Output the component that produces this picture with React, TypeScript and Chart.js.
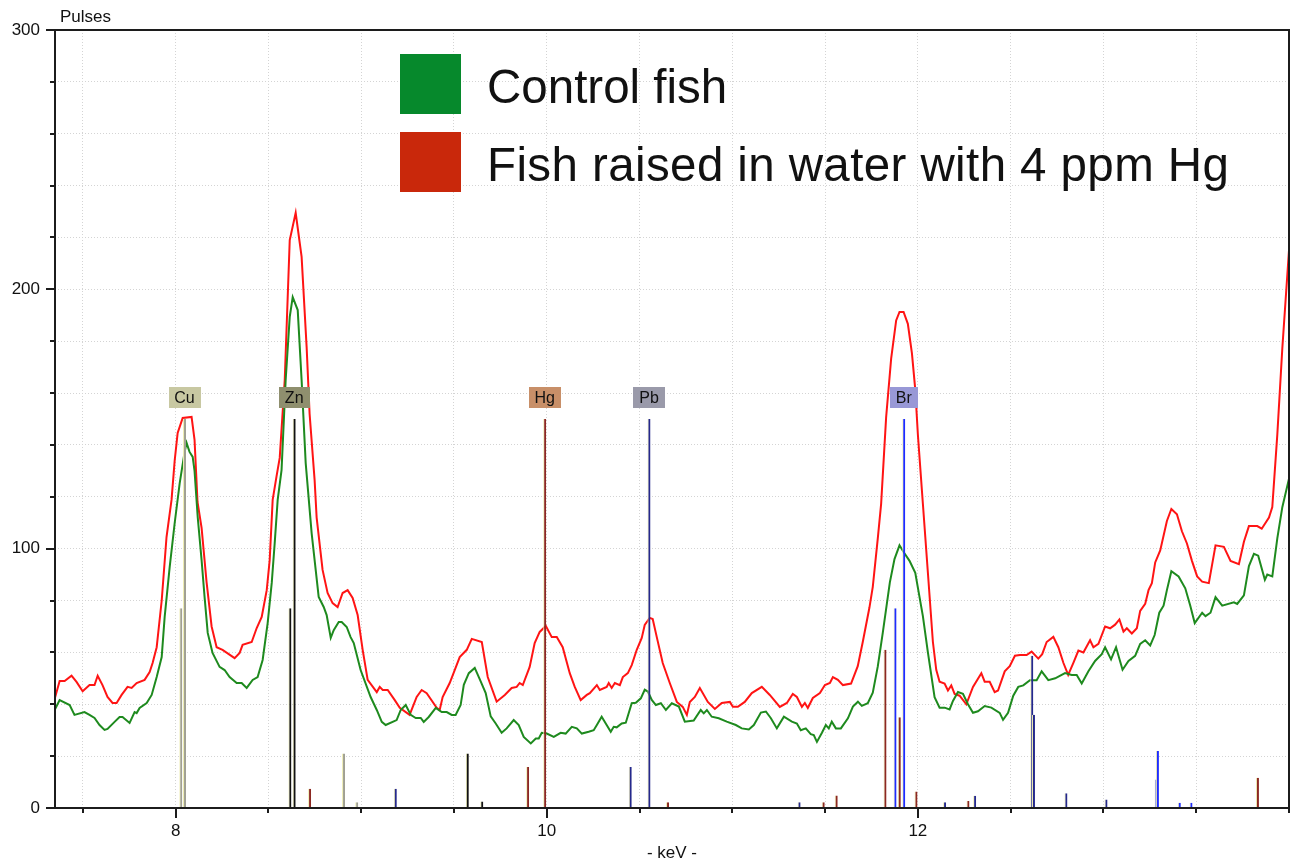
import React, { useEffect, useRef } from 'react';
import { Chart, registerables } from 'chart.js';

Chart.register(...registerables);

// ---------- DATA ----------
const redKeV = [
  7.348, 7.375, 7.402, 7.439, 7.466, 7.499, 7.536, 7.563, 7.58, 7.606, 7.633, 7.66, 7.682, 7.709, 7.741, 7.763, 7.79, 7.833, 7.86, 7.876,
  7.898, 7.925, 7.951, 7.978, 7.995, 8.011, 8.038, 8.086, 8.102, 8.118, 8.14, 8.167, 8.194, 8.221, 8.253, 8.318, 8.345, 8.361, 8.41, 8.437,
  8.464, 8.491, 8.507, 8.523, 8.544, 8.561, 8.588, 8.615, 8.647, 8.679, 8.706, 8.722, 8.749, 8.76, 8.792, 8.819, 8.846, 8.873, 8.9, 8.927,
  8.954, 8.981, 9.008, 9.035, 9.084, 9.1, 9.116, 9.143, 9.181, 9.208, 9.261, 9.299, 9.326, 9.353, 9.407, 9.423, 9.439, 9.477, 9.504, 9.531,
  9.569, 9.596, 9.65, 9.682, 9.73, 9.774, 9.811, 9.838, 9.854, 9.871, 9.908, 9.935, 9.962, 9.995, 10.027, 10.054, 10.086, 10.124, 10.151, 10.183,
  10.216, 10.232, 10.27, 10.286, 10.323, 10.334, 10.35, 10.367, 10.394, 10.41, 10.437, 10.458, 10.485, 10.512, 10.528, 10.555, 10.571, 10.593, 10.625, 10.663,
  10.701, 10.733, 10.755, 10.771, 10.798, 10.825, 10.868, 10.906, 10.943, 10.987, 11.003, 11.03, 11.067, 11.105, 11.159, 11.202, 11.256, 11.294, 11.326, 11.348,
  11.375, 11.391, 11.407, 11.434, 11.472, 11.499, 11.526, 11.542, 11.569, 11.596, 11.64, 11.676, 11.703, 11.739, 11.757, 11.784, 11.802, 11.829, 11.856, 11.883,
  11.901, 11.923, 11.946, 11.968, 11.986, 12.0, 12.027, 12.054, 12.081, 12.099, 12.117, 12.144, 12.162, 12.18, 12.198, 12.225, 12.261, 12.297, 12.342, 12.36,
  12.387, 12.414, 12.432, 12.468, 12.495, 12.523, 12.55, 12.586, 12.613, 12.649, 12.67, 12.694, 12.73, 12.757, 12.784, 12.81, 12.838, 12.865, 12.892, 12.928,
  12.946, 12.973, 13.009, 13.036, 13.063, 13.086, 13.108, 13.126, 13.153, 13.18, 13.198, 13.225, 13.243, 13.261, 13.279, 13.306, 13.342, 13.366, 13.396, 13.423,
  13.45, 13.477, 13.505, 13.532, 13.568, 13.604, 13.649, 13.685, 13.73, 13.757, 13.784, 13.829, 13.853, 13.892, 13.91, 13.937, 13.964, 14.0
];
const redPulses = [
  42, 49, 49, 51, 48.6, 45, 47.4, 47.4, 51, 47.4, 42.8, 40.5, 40.5, 43.6, 46.7, 46.3, 48.2, 49.4, 52.4, 55.9,
  62, 80, 104.5, 118.8, 134, 144.6, 150.4, 150.8, 142, 118, 108, 87, 70, 62, 61, 57.8, 59.8, 62.9, 64, 69.4,
  73.7, 84, 95.6, 118.8, 128, 135, 165, 219, 229.5, 212.5, 177.8, 152, 126.5, 112, 91.8, 82.9, 79, 77.5, 82.9, 84,
  81, 74.4, 61, 49.4, 44.7, 46.7, 45.5, 45.5, 41.6, 38.6, 35.9, 42.8, 45.5, 44.3, 38.6, 37.8, 42.8, 48.2, 53.2, 58.2,
  61, 65.2, 64, 50.5, 41, 43.6, 46.3, 46.7, 48.2, 47.4, 54.4, 63.6, 67.9, 70.2, 65.9, 65.9, 62, 52, 46.7, 41.6,
  43.6, 44.3, 47.4, 45.5, 46.7, 48.2, 46.3, 48.2, 47.4, 50.5, 52, 55.1, 61, 65.6, 70.6, 73.3, 72.9, 65.9, 55.9, 48.2,
  40.9, 39, 35.9, 40.9, 42.8, 46.3, 40.9, 38.2, 40.5, 40.9, 39, 39, 40.9, 44.3, 46.7, 43.6, 39, 40.5, 44, 42.8,
  39, 40.5, 38.6, 42.4, 44.3, 47.4, 48.2, 50.5, 49.4, 47.4, 48, 54.7, 64, 77.3, 85.3, 104, 117.3, 150.7, 173.3, 188,
  191.3, 191.3, 186.7, 175.3, 161.3, 144, 117.3, 90.7, 64, 53.3, 48.7, 48, 45.3, 47.3, 44, 43.3, 40, 46.7, 52, 48.7,
  48.7, 44.7, 45.3, 52.7, 54.7, 58.7, 59, 59, 60.3, 57.6, 59.3, 64, 66, 62, 56, 51.3, 56, 60.7, 60, 64.7,
  62, 63.3, 70, 69.3, 70.7, 72.7, 68, 69.3, 67.3, 69.3, 76, 78.7, 84, 86.7, 94.7, 99.3, 110.7, 115.3, 113.3, 106.7,
  102, 95.3, 89.3, 87.3, 86.7, 101.3, 100.7, 95.3, 94, 102.7, 108.7, 108.7, 107.7, 112, 116, 144, 177.3, 215
];

const greenKeV = [
  7.348, 7.375, 7.429, 7.455, 7.509, 7.536, 7.563, 7.59, 7.617, 7.633, 7.671, 7.698, 7.714, 7.752, 7.779, 7.79, 7.806, 7.844, 7.871, 7.898,
  7.925, 7.941, 7.968, 7.995, 8.022, 8.049, 8.059, 8.075, 8.092, 8.102, 8.119, 8.14, 8.156, 8.173, 8.199, 8.237, 8.264, 8.291, 8.329, 8.356,
  8.383, 8.415, 8.442, 8.469, 8.496, 8.518, 8.534, 8.55, 8.571, 8.593, 8.615, 8.631, 8.658, 8.679, 8.701, 8.733, 8.771, 8.798, 8.814, 8.836,
  8.852, 8.879, 8.895, 8.922, 8.943, 8.96, 8.997, 9.051, 9.084, 9.111, 9.132, 9.191, 9.213, 9.24, 9.267, 9.294, 9.321, 9.337, 9.364, 9.402,
  9.434, 9.461, 9.488, 9.509, 9.536, 9.553, 9.58, 9.612, 9.644, 9.671, 9.698, 9.725, 9.757, 9.784, 9.822, 9.849, 9.876, 9.914, 9.941, 9.957,
  9.973, 10.0, 10.038, 10.075, 10.102, 10.135, 10.162, 10.189, 10.226, 10.253, 10.27, 10.296, 10.318, 10.345, 10.361, 10.377, 10.404, 10.426, 10.458, 10.48,
  10.507, 10.528, 10.545, 10.566, 10.588, 10.615, 10.642, 10.674, 10.712, 10.744, 10.792, 10.83, 10.846, 10.863, 10.889, 10.927, 10.97, 11.019, 11.051, 11.089,
  11.116, 11.154, 11.181, 11.208, 11.24, 11.278, 11.321, 11.348, 11.369, 11.396, 11.423, 11.439, 11.456, 11.483, 11.504, 11.52, 11.536, 11.558, 11.585, 11.623,
  11.65, 11.677, 11.698, 11.73, 11.757, 11.784, 11.811, 11.849, 11.874, 11.901, 11.923, 11.955, 11.986, 12.009, 12.027, 12.054, 12.09, 12.117, 12.144, 12.171,
  12.189, 12.216, 12.243, 12.27, 12.297, 12.324, 12.36, 12.396, 12.441, 12.459, 12.486, 12.514, 12.541, 12.568, 12.604, 12.64, 12.667, 12.703, 12.74, 12.793,
  12.829, 12.856, 12.883, 12.919, 12.955, 12.991, 13.009, 13.041, 13.068, 13.103, 13.135, 13.171, 13.198, 13.225, 13.252, 13.276, 13.301, 13.324, 13.342, 13.366,
  13.405, 13.441, 13.468, 13.492, 13.532, 13.55, 13.577, 13.604, 13.64, 13.703, 13.721, 13.757, 13.784, 13.811, 13.834, 13.87, 13.883, 13.91, 13.937, 13.964, 14.0
];
const greenPulses = [
  37.8, 41.6, 39.7, 35.9, 37, 35.9, 34.7, 32, 30.1, 30.5, 33.2, 35.1, 35.1, 32.8, 37, 36.6, 38.6, 40.5, 43.6, 50.5,
  58.2, 73.7, 92.9, 109.9, 125.3, 137.5, 140.8, 137.3, 135.4, 130, 112.2, 95.6, 81.4, 67.5, 59.8, 54.4, 53.2, 50.5, 48.2, 48.2,
  46.3, 49.4, 50.5, 57.1, 71.3, 86.8, 102.2, 118.8, 130.4, 165, 189.4, 197, 192, 165, 133, 106, 81.4, 77.5, 74.4, 65.6,
  68.6, 71.7, 71.7, 69.8, 65.9, 63.6, 53.2, 42.8, 37.8, 33.2, 32, 33.9, 37.8, 39.7, 35.9, 34.7, 34.7, 33.2, 35.1, 38.6,
  37, 37, 35.9, 35.9, 39.7, 47.5, 52, 54, 48.8, 44.3, 35.3, 32.6, 29, 30.7, 33.9, 32, 27.4, 24.9, 26.8, 26.8,
  29, 28.7, 27.4, 29, 28.7, 31.3, 30.7, 28.7, 29.4, 30, 32, 35.2, 32.6, 29.4, 31.3, 31.1, 32.6, 32.9, 40.4, 40.6,
  42.3, 45.6, 44.9, 41.7, 39.7, 40.4, 37.8, 40.4, 39.1, 33.3, 33.7, 37.8, 36.5, 37.8, 35.2, 34.6, 33.3, 32, 30.7, 30.3,
  32, 36.8, 37.2, 34.6, 30.7, 35.2, 33.3, 32.6, 30, 30.7, 28.5, 28.1, 25.5, 29, 32, 30.7, 33.3, 30.7, 30.7, 34.6,
  39.1, 41, 39.4, 40.4, 44.5, 54.6, 67.6, 87, 96, 101.3, 98.7, 95.3, 90.7, 81.3, 74, 60, 42.7, 38.7, 38.7, 38,
  41.3, 44.7, 44, 40, 36.7, 37.3, 39.3, 38.7, 36.7, 34, 36.7, 43.3, 46.7, 47.3, 49.3, 49.3, 52.7, 49.3, 50, 52,
  51.3, 51.3, 48, 52.7, 56.7, 59.3, 62, 57.3, 62, 53.3, 56.7, 58.7, 63.3, 64.7, 62.7, 66.7, 75.3, 78, 84, 91.3,
  89.3, 84.7, 78, 71.3, 75.3, 74, 75.3, 81.3, 78, 79.3, 78.7, 82, 93.3, 98, 97.3, 88, 90, 89.3, 104, 116, 127
];

// element emission lines (keV, relative height, element)
const lineKeV = [
  8.028, 8.048, 8.616, 8.639, 8.722, 8.905, 8.976, 9.184, 9.572, 9.65,
  9.897, 9.989, 10.45, 10.551, 10.651, 11.36, 11.49, 11.56, 11.823, 11.877,
  11.9, 11.924, 11.99, 12.144, 12.27, 12.306, 12.614, 12.623, 12.798, 13.014,
  13.284, 13.291, 13.409, 13.472, 13.83
];
const lineHeight = [
  77, 150, 77, 150, 7.4, 21, 2.2, 7.4, 21, 2.5,
  15.8, 150, 15.8, 150, 2.2, 2.2, 2.2, 4.8, 61, 77,
  35, 150, 6.4, 2.2, 2.7, 4.7, 58.7, 36, 5.7, 3.3,
  11, 22, 2, 2, 11.7
];
const lineElement = [
  'Cu', 'Cu', 'Zn', 'Zn', 'Hg', 'Cu', 'Cu', 'Pb', 'Zn', 'Zn',
  'Hg', 'Hg', 'Pb', 'Pb', 'Hg', 'Pb', 'Hg', 'Hg', 'Hg', 'Br',
  'Hg', 'Br', 'Hg', 'Pb', 'Hg', 'Pb', 'Pb', 'Pb', 'Pb', 'Pb',
  'Br', 'Br', 'Br', 'Br', 'Hg'
];

const labelElements = ['Cu', 'Zn', 'Hg', 'Pb', 'Br'];
const labelKeV = [8.048, 8.639, 9.989, 10.551, 11.924];

const yTickLabels = [0, 100, 200, 300];
const xTickLabels = [8, 10, 12];
const seriesNames = ['Control fish', 'Fish raised in water with 4 ppm Hg'];
const yAxisTitle = 'Pulses';
const xAxisTitle = '- keV -';

// ---------- STYLES ----------
const FONT = '"Liberation Sans", Arial, Helvetica, sans-serif';
const elementColor: Record<string, string> = {
  Cu: '#a0a092',
  Zn: '#121212',
  Hg: '#8c2822',
  Pb: '#25298c',
  Br: '#1e2cff',
};
const elementBg: Record<string, string> = {
  Cu: '#c8c8a2',
  Zn: '#8f8f6e',
  Hg: '#c88f68',
  Pb: '#9a9aaa',
  Br: '#9898d6',
};
const LABEL_LEVEL = 158.3;
const GREEN_LINE = '#1e8a1e';
const RED_LINE = '#ff1414';
const GREEN_SWATCH = '#06892c';
const RED_SWATCH = '#c9280b';

const overlayPlugin = {
  id: 'overlay',
  afterDatasetsDraw(chart: any) {
    const { ctx, scales } = chart;
    const x = scales.x;
    const y = scales.y;
    ctx.save();
    ctx.font = `16px ${FONT}`;
    ctx.textAlign = 'center';
    ctx.textBaseline = 'middle';
    labelElements.forEach((el, i) => {
      const cx = x.getPixelForValue(labelKeV[i]);
      const cy = y.getPixelForValue(LABEL_LEVEL);
      const w = Math.round(ctx.measureText(el).width + 12);
      const h = 21;
      ctx.fillStyle = elementBg[el];
      ctx.fillRect(Math.round(cx - w / 2), Math.round(cy - h / 2), w, h);
      ctx.fillStyle = '#111';
      ctx.fillText(el, cx, cy + 1);
    });
    ctx.restore();
  },
  afterDraw(chart: any) {
    const { ctx, chartArea, scales } = chart;
    const x = scales.x;
    const y = scales.y;
    ctx.save();
    // frame
    ctx.strokeStyle = '#1c1c1c';
    ctx.lineWidth = 2;
    ctx.strokeRect(chartArea.left, chartArea.top, chartArea.right - chartArea.left, chartArea.bottom - chartArea.top);
    // tick marks
    ctx.lineWidth = 2;
    ctx.beginPath();
    y.ticks.forEach((t: any) => {
      const py = Math.round(y.getPixelForValue(t.value));
      const len = yTickLabels.includes(t.value) ? 9 : 5;
      ctx.moveTo(chartArea.left - len, py);
      ctx.lineTo(chartArea.left, py);
    });
    x.ticks.forEach((t: any) => {
      const px = Math.round(x.getPixelForValue(t.value));
      const len = xTickLabels.includes(t.value) ? 10 : 5;
      ctx.moveTo(px, chartArea.bottom);
      ctx.lineTo(px, chartArea.bottom + len);
    });
    ctx.stroke();
    // y axis title
    ctx.fillStyle = '#111';
    ctx.font = `17px ${FONT}`;
    ctx.textAlign = 'left';
    ctx.textBaseline = 'alphabetic';
    ctx.fillText(yAxisTitle, chartArea.left + 5, chartArea.top - 8);
    // legend
    const swX = 400;
    const rows = [84, 162];
    const spacing = ['0px', '0.4px'];
    const sw = [GREEN_SWATCH, RED_SWATCH];
    rows.forEach((cy, i) => {
      ctx.fillStyle = sw[i];
      ctx.fillRect(swX, cy - 30, 61, 60);
      ctx.fillStyle = '#111';
      ctx.font = `47.5px ${FONT}`;
      (ctx as any).letterSpacing = spacing[i];
      ctx.fillText(seriesNames[i], 487, cy + 19);
    });
    (ctx as any).letterSpacing = '0px';
    ctx.restore();
  },
};

export default function App() {
  const canvasRef = useRef<HTMLCanvasElement | null>(null);

  useEffect(() => {
    document.body.style.margin = '0';
    const canvas = canvasRef.current;
    if (!canvas) return;

    const gridOpts = {
      color: '#d4d4d4',
      lineWidth: 1,
      drawTicks: false,
      offset: false,
    };

    const chart = new Chart(canvas, {
      type: 'line',
      data: {
        datasets: [
          {
            type: 'bar',
            label: 'lines',
            data: lineKeV.map((k, i) => ({ x: k, y: lineHeight[i] })),
            backgroundColor: lineElement.map((e) => elementColor[e]),
            borderColor: '#eeedb2',
            borderWidth: { left: 1, right: 0, top: 0, bottom: 0 },
            borderSkipped: false,
            barThickness: 3,
            inflateAmount: 0,
            order: 0,
          } as any,
          {
            type: 'line',
            label: seriesNames[0],
            data: greenKeV.map((k, i) => ({ x: k, y: greenPulses[i] })),
            borderColor: GREEN_LINE,
            borderWidth: 2,
            pointRadius: 0,
            tension: 0,
            fill: false,
            order: 1,
          },
          {
            type: 'line',
            label: seriesNames[1],
            data: redKeV.map((k, i) => ({ x: k, y: redPulses[i] })),
            borderColor: RED_LINE,
            borderWidth: 2,
            pointRadius: 0,
            tension: 0,
            fill: false,
            order: 2,
          },
        ],
      },
      options: {
        animation: false,
        responsive: false,
        maintainAspectRatio: false,
        events: [],
        layout: { padding: { top: 30, right: 5, left: 0, bottom: 0 } },
        plugins: {
          legend: { display: false },
          tooltip: { enabled: false },
          title: { display: false },
        },
        scales: {
          x: {
            type: 'linear',
            min: 7.35,
            max: 14.0,
            offset: false,
            afterFit: (s: any) => {
              s.height = 57;
              s.paddingLeft = 0;
              s.paddingRight = 0;
            },
            grid: gridOpts,
            border: { display: false, dash: [1, 2] },
            ticks: {
              stepSize: 0.5,
              includeBounds: false,
              autoSkip: false,
              maxRotation: 0,
              minRotation: 0,
              padding: 13,
              color: '#111',
              font: { family: FONT, size: 17 },
              callback: (v: any) => (xTickLabels.includes(Number(v)) ? String(v) : ''),
            },
            title: {
              display: true,
              text: xAxisTitle,
              color: '#111',
              font: { family: FONT, size: 17 },
              padding: { top: 0, bottom: 1 },
            },
          },
          y: {
            type: 'linear',
            min: 0,
            max: 300,
            afterFit: (s: any) => {
              s.width = 55;
              s.paddingTop = 0;
              s.paddingBottom = 0;
            },
            grid: gridOpts,
            border: { display: false, dash: [1, 2] },
            ticks: {
              stepSize: 20,
              includeBounds: false,
              autoSkip: false,
              padding: 15,
              color: '#111',
              font: { family: FONT, size: 17 },
              callback: (v: any) => (yTickLabels.includes(Number(v)) ? String(v) : ''),
            },
          },
        },
      } as any,
      plugins: [overlayPlugin],
    });

    return () => {
      chart.destroy();
    };
  }, []);

  return (
    <div style={{ position: 'absolute', left: 0, top: 0, width: 1294, height: 865, background: '#fff' }}>
      <canvas ref={canvasRef} width={1294} height={865} style={{ display: 'block' }} />
    </div>
  );
}
